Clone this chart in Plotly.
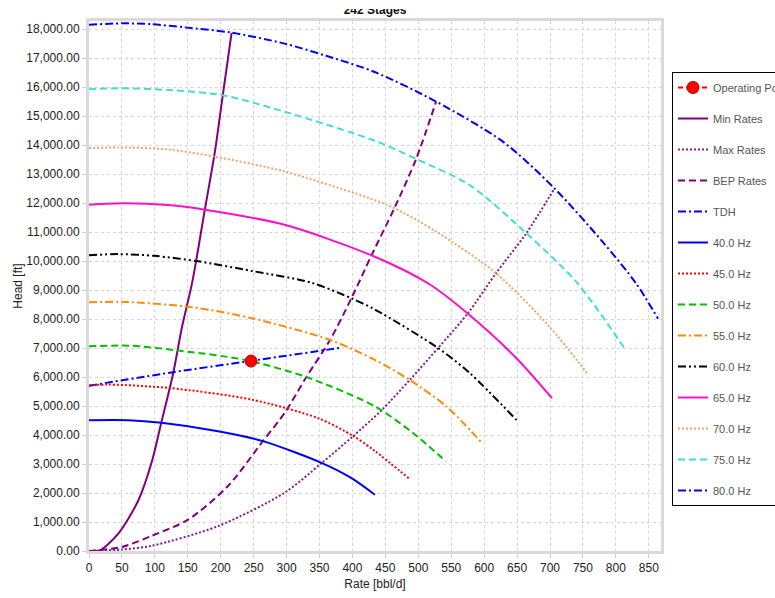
import plotly.graph_objects as go

# ---------------- data ----------------
op_x = [246]
op_y = [6550]

min_x = [0, 16, 44.5, 75, 95, 110, 128, 141, 157, 176, 191, 203, 216.5]
min_y = [0, 20, 600, 1750, 3050, 4450, 6150, 7700, 9300, 11790, 13750, 15700, 17870]

max_x = [0, 50, 95, 196, 297, 353, 401, 444, 487, 530, 575, 618, 664, 707]
max_y = [0, 50, 180, 860, 2010, 3030, 3960, 4850, 5900, 7000, 8190, 9580, 10960, 12510]

bep_x = [0, 50, 95, 151, 211, 264, 297, 330, 366, 398.5, 429, 464, 497, 527]
bep_y = [0, 140, 520, 1090, 2240, 3790, 4760, 6000, 7280, 8720, 10200, 11840, 13540, 15500]

tdh_x = [0, 125, 247, 382]
tdh_y = [5700, 6160, 6560, 7010]

hz40_x = [0, 60, 110, 196, 264, 353, 398, 434]
hz40_y = [4510, 4510, 4420, 4130, 3790, 3040, 2520, 1940]

hz45_x = [0, 30, 123, 247, 348, 401, 434, 487]
hz45_y = [5710, 5740, 5620, 5220, 4580, 3970, 3450, 2480]

hz50_x = [0, 63, 141, 237, 330, 434, 492, 542]
hz50_y = [7060, 7080, 6900, 6590, 6000, 4990, 4070, 3090]

hz55_x = [0, 55, 156, 247, 366, 434, 487, 543, 596]
hz55_y = [8580, 8590, 8410, 8030, 7280, 6590, 5900, 4980, 3740]

hz60_x = [0, 44, 100, 166, 247, 338, 398, 434, 530, 578, 649]
hz60_y = [10200, 10240, 10180, 9990, 9660, 9250, 8720, 8330, 7000, 6140, 4520]

hz65_x = [0, 55, 120, 176, 297, 434, 517, 575, 649, 703]
hz65_y = [11940, 11990, 11930, 11770, 11250, 10150, 9200, 8190, 6650, 5270]

hz70_x = [0, 44, 120, 191, 297, 434, 464, 527, 618, 699, 758]
hz70_y = [13890, 13920, 13850, 13600, 13090, 12100, 11820, 11020, 9580, 7740, 6080]

hz75_x = [0, 50, 120, 203, 297, 434, 497, 578, 664, 740, 813]
hz75_y = [15930, 15960, 15900, 15720, 15150, 14150, 13520, 12620, 10960, 9280, 6990]

hz80_x = [0, 50, 95, 146, 216, 297, 360, 434, 527, 629, 707, 780, 831, 864]
hz80_y = [18150, 18200, 18170, 18060, 17880, 17500, 17080, 16520, 15500, 14110, 12500, 10660, 9220, 8010]

x_ticks = list(range(0, 851, 50))
y_ticks = list(range(0, 18001, 1000))

# ---------------- styles ----------------
DASHDOT = "8px,3px,2px,3px"
DASHDOTDOT = "8px,3px,2px,3px,2px,3px"
DASH = "7px,4px"
DOT = "2px,2px"

series = [
    ("Min Rates", min_x, min_y, "#800080", "solid", 2),
    ("Max Rates", max_x, max_y, "#8B1A8B", DOT, 2),
    ("BEP Rates", bep_x, bep_y, "#800080", DASH, 2),
    ("TDH", tdh_x, tdh_y, "#0000FF", DASHDOT, 2),
    ("40.0 Hz", hz40_x, hz40_y, "#0000FF", "solid", 2),
    ("45.0 Hz", hz45_x, hz45_y, "#FF0000", DOT, 2),
    ("50.0 Hz", hz50_x, hz50_y, "#00C000", DASH, 2),
    ("55.0 Hz", hz55_x, hz55_y, "#FF8C00", DASHDOT, 2),
    ("60.0 Hz", hz60_x, hz60_y, "#000000", DASHDOTDOT, 2),
    ("65.0 Hz", hz65_x, hz65_y, "#FF10C8", "solid", 2),
    ("70.0 Hz", hz70_x, hz70_y, "#F4A460", DOT, 2),
    ("75.0 Hz", hz75_x, hz75_y, "#40E0D0", DASH, 2),
    ("80.0 Hz", hz80_x, hz80_y, "#0000FF", DASHDOT, 2),
]

fig = go.Figure()
for i, (name, xs, ys, col, dash, w) in enumerate(series):
    fig.add_trace(go.Scatter(
        x=xs, y=ys, mode="lines", name=name,
        line=dict(color=col, dash=dash, width=w, shape="spline", smoothing=0.8),
        legendgroup=name, legendrank=10 + i,
    ))

fig.add_trace(go.Scatter(
    x=op_x, y=op_y, mode="lines+markers", name="Operating Point",
    line=dict(color="#FF0000", dash="5px,3px", width=2),
    marker=dict(color="#FF0000", size=12, line=dict(color="#B00000", width=1)),
    legendgroup="op", legendrank=1,
))

FONT = "Liberation Sans, Arial, sans-serif"

fig.update_layout(
    width=775, height=598,
    paper_bgcolor="white", plot_bgcolor="white",
    margin=dict(l=89, r=114, t=21, b=47, autoexpand=False),
    font=dict(family=FONT, size=12, color="#222222"),
    title=dict(text="<b>242 Stages</b>", x=0.5, xref="paper",
               y=1 - 10 / 598, yref="container", yanchor="middle", xanchor="center",
               font=dict(family=FONT, size=12, color="#111111")),
    showlegend=True,
    legend=dict(
        x=(672 - 89) / 572, y=(551 - 72) / 530, xanchor="left", yanchor="top",
        bgcolor="white", bordercolor="#000000", borderwidth=1,
        font=dict(family=FONT, size=11, color="#555555"),
        traceorder="grouped", tracegroupgap=12, itemwidth=30,
    ),
    xaxis=dict(
        range=[0, 868.5], tickvals=x_ticks, ticktext=[str(v) for v in x_ticks],
        showgrid=True, gridcolor="#d6d6d6", griddash="dot", gridwidth=1,
        zeroline=False, showline=True, linecolor="#dadada", linewidth=3, mirror=True,
        ticks="outside", ticklen=4, tickcolor="#d0d0d0",
        tickfont=dict(family=FONT, size=12, color="#222222"),
        title=dict(text="Rate [bbl/d]", font=dict(family=FONT, size=12, color="#222222"), standoff=6),
    ),
    yaxis=dict(
        range=[0, 18280], tickvals=y_ticks, tickformat=",.2f",
        showgrid=True, gridcolor="#d6d6d6", griddash="dot", gridwidth=1,
        zeroline=False, showline=True, linecolor="#dadada", linewidth=3, mirror=True,
        ticks="outside", ticklen=4, tickcolor="#d0d0d0",
        tickfont=dict(family=FONT, size=12, color="#222222"),
        title=dict(text="Head [ft]", font=dict(family=FONT, size=12, color="#222222"), standoff=2),
    ),
    annotations=[dict(
        text=" ", xref="paper", yref="paper", x=(375 - 89) / 572, y=551 / 530,
        xanchor="center", yanchor="top", width=110, height=9, bgcolor="white",
        borderpad=0, borderwidth=0, showarrow=False,
    )],
)

fig.write_html("out.html")
